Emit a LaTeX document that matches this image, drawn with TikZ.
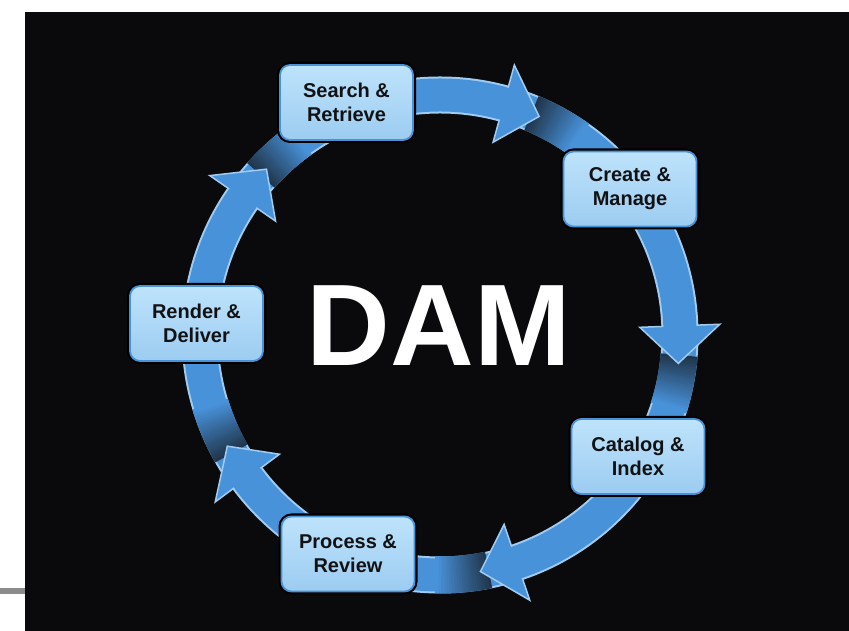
\documentclass[tikz,border=0pt]{standalone}
\usepackage{fontspec}
\setmainfont{Liberation Sans}
\definecolor{bgc}{RGB}{10,10,12}
\definecolor{grayl}{RGB}{140,140,140}
\definecolor{ringblue}{RGB}{72,146,218}
\definecolor{edgeblue}{RGB}{160,204,242}
\definecolor{darkc}{RGB}{26,38,52}
\definecolor{boxtop}{RGB}{190,227,251}
\definecolor{boxbot}{RGB}{156,204,241}
\definecolor{boxedge}{RGB}{74,146,214}
\definecolor{txt}{RGB}{18,18,20}
\begin{document}
\begin{tikzpicture}[x=1pt,y=1pt,
  stage/.style={rounded corners=10pt, minimum width=133pt, minimum height=75pt,
    top color=boxtop, bottom color=boxbot, draw=boxedge, line width=1.8pt,
    preaction={draw=black,line width=6pt}, align=center, text=txt,
    font=\fontsize{20}{24}\selectfont\bfseries, inner sep=0pt},
  ringline/.style={line width=37pt}]
\useasboundingbox (0,0) rectangle (849,631);
\fill[white] (0,0) rectangle (849,631);
\fill[bgc] (25,0) rectangle (849,619);
\fill[grayl] (0,37) rectangle (25,43);
\begin{scope}[shift={(440,296)}]
  \draw[line width=37pt, edgeblue] (0,0) circle[radius=240];
  \draw[line width=33pt, ringblue] (0,0) circle[radius=240];
  \foreach \t in {65.6,-6.8,-80.3,-152.4,136.3}{
    \foreach \i in {0,...,20}{
      \pgfmathtruncatemacro\p{15+4.25*\i}
      \pgfmathsetmacro\a{\t+2-0.6*\i}
      \draw[ringline, ringblue!\p!darkc] (\a:240) arc[start angle=\a, end angle=\a-0.9, radius=240];
    }
    \fill[ringblue] (\t:240) -- (\t+9:280) -- (\t+9:200) -- cycle;
    \draw[edgeblue, line width=1.5pt, line join=miter] (\t+9:256.5) -- (\t+9:280) -- (\t:240) -- (\t+9:200) -- (\t+9:223.5);
  }
\end{scope}
\node[stage] (search) at (346.5,528.5) {Search \&\\Retrieve};
\node[stage] (create) at (630,442) {Create \&\\Manage};
\node[stage] (catalog) at (638,174.5) {Catalog \&\\Index};
\node[stage] (process) at (348,77) {Process \&\\Review};
\node[stage] (render) at (196.5,307.5) {Render \&\\Deliver};
\node[text=white, font=\fontsize{116}{116}\selectfont\bfseries, inner sep=0pt] (dam) at (439,305) {DAM};
\end{tikzpicture}
\end{document}
